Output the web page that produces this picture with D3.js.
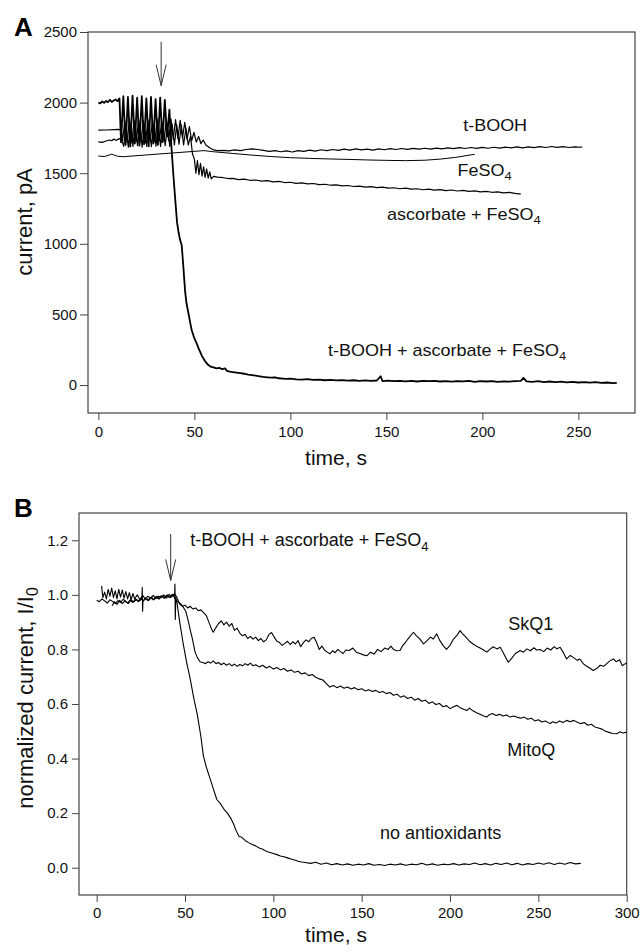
<!DOCTYPE html>
<html><head><meta charset="utf-8">
<script src="https://cdn.jsdelivr.net/npm/d3@7"></script>
<style>
html,body{margin:0;padding:0;background:#fff;}
svg{display:block;font-family:"Liberation Sans",Arial,sans-serif;}
</style></head>
<body>
<svg id="chart" width="640" height="952"></svg>
<script>
// ---------------- DATA: panel A (time s, current pA) ----------------
const aTicksX = [0, 50, 100, 150, 200, 250];
const aTicksY = [0, 500, 1000, 1500, 2000, 2500];
const aDomainX = [-5.4, 279.5];
const aDomainY = [-198, 2500];

const aAll = [[0,2000],[1,1995],[2,2008],[3,1998],[4,2012],[5,2003],[6,2020],[7,2005],[8,2015],[9,2022],[10,2010],[11,2030],
[11.8,1720],[13,2045],[14.2,1700],[15.4,2040],[16.6,1690],[17.8,2050],[19,1710],[20.2,2035],[21.4,1695],[22.6,2045],[23.8,1705],[25,2030],[26.2,1690],[27.4,2040],[28.6,1710],[29.8,2025],[31,1700],[32.2,2035],[33.4,1720],[34.6,2020],[35.8,1760],[37,1950],
[38,1700],[39,1500],[40,1320],[41,1150],[41.8,1080],[42.5,1030],[43.4,990],[44.2,850],[45.2,660],[46,570],[46.9,510],[48,430],[48.6,390],[50,330],[51.2,295],[52.5,250],[54,205],[55.5,170],[57,145],[58.5,130],[60,125],[61.5,118],[63,122],[64.5,112],[66,118],[67,100],[68.5,95],[70,92],[72,88],[74,84],[76,80],[78,74],[80,70],[82,66],[84,62],[86,58],[88,55],[90,52],[92,54],[94,48],[96,46],[98,43],[100,45],[103,40],[106,38],[109,42],[112,36],[115,38],[118,34],[121,37],[124,33],[127,35],[130,31],[133,34],[136,30],[139,33],[142,29],[145,32],[147,62],[148,28],[151,31],[154,27],[157,30],[160,26],[163,29],[166,25],[169,30],[172,27],[175,29],[178,25],[181,28],[184,24],[187,27],[190,26],[193,29],[196,23],[199,27],[202,25],[205,28],[208,22],[211,26],[214,24],[217,28],[220,30],[221.4,50],[223,26],[226,23],[229,27],[232,21],[235,25],[238,20],[241,24],[244,19],[247,22],[250,18],[253,21],[256,17],[259,20],[262,15],[265,18],[268,14],[270,16]];

const aTBOOH = [[0,1805],[4,1806],[8,1808],[11,1810],[12,1800],
[12.6,1730],[13.8,1870],[15,1720],[16.2,1880],[17.4,1715],[18.6,1875],[19.8,1725],[21,1885],[22.2,1720],[23.4,1870],[24.6,1715],[25.8,1880],[27,1725],[28.2,1875],[29.4,1720],[30.6,1885],[31.8,1730],[33,1870],[34.2,1725],[35.4,1880],[36.6,1730],[37.8,1885],[39,1740],[40.2,1880],[41.4,1745],[42.6,1875],[43.8,1750],[45,1860],[46.2,1740],[47.4,1830],[48.6,1730],[49.8,1790],[51,1720],[52.2,1760],[53.4,1710],[54.6,1735],
[56,1700],[58,1680],[60,1665],[62,1660],[65,1662],[68,1658],[71,1665],[74,1660],[77,1668],[80,1672],[83,1668],[86,1662],[89,1655],[92,1660],[95,1652],[98,1658],[101,1650],[104,1660],[107,1655],[110,1663],[113,1657],[116,1666],[119,1660],[122,1668],[125,1662],[128,1670],[131,1664],[134,1672],[137,1665],[140,1670],[143,1664],[146,1672],[149,1666],[152,1674],[155,1668],[158,1675],[161,1669],[164,1676],[167,1670],[170,1677],[173,1671],[176,1678],[179,1672],[182,1680],[185,1674],[188,1681],[191,1675],[194,1682],[197,1676],[200,1683],[203,1677],[206,1684],[209,1678],[212,1685],[215,1679],[218,1686],[221,1680],[224,1687],[227,1681],[230,1688],[233,1682],[236,1689],[239,1683],[242,1688],[245,1682],[248,1687],[251,1684],[252,1686]];

const aFeSO4 = [[0,1622],[3,1618],[5,1626],[7,1635],[8,1630],[10,1620],[13,1617],[55,1660],[60,1652],[70,1640],[80,1628],[90,1618],[100,1610],[110,1605],[120,1601],[130,1598],[140,1594],[150,1591],[160,1589],[170,1592],[178,1600],[186,1612],[196,1634]];

const aAscFe = [[0,1722],[2,1718],[4,1728],[6,1735],[7,1730],[8,1742],[9,1733],[10,1738],[11,1745],[12,1740],
[13.2,1690],[14.4,1840],[15.6,1685],[16.8,1850],[18,1690],[19.2,1845],[20.4,1695],[21.6,1850],[22.8,1685],[24,1840],[25.2,1690],[26.4,1848],[27.6,1688],[28.8,1842],[30,1692],[31.2,1850],[32.4,1690],[33.6,1845],[34.8,1695],[36,1840],[37.2,1690],[38.4,1850],[39.6,1700],[40.8,1845],[42,1705],[43.2,1840],[44.4,1700],[45.6,1820],[46.8,1700],[48,1760],
[49,1640],[50,1600],[50.8,1500],[51.6,1590],[52.4,1490],[53.2,1570],[54,1480],[54.8,1545],[55.6,1470],[56.4,1530],[57.2,1465],[58,1510],[58.8,1460],[60,1478],[62,1472],[64,1470],[66,1466],[68,1462],[70,1464],[73,1455],[76,1458],[79,1450],[82,1452],[85,1444],[88,1447],[91,1439],[94,1442],[97,1434],[100,1436],[103,1428],[106,1431],[109,1424],[112,1427],[115,1419],[118,1422],[121,1415],[124,1418],[127,1410],[130,1413],[133,1406],[136,1409],[139,1402],[142,1405],[145,1398],[148,1401],[151,1394],[154,1397],[157,1390],[160,1394],[163,1387],[166,1390],[169,1383],[172,1387],[175,1380],[178,1384],[181,1377],[184,1381],[187,1374],[190,1378],[193,1371],[196,1375],[199,1368],[202,1372],[205,1365],[208,1368],[211,1361],[214,1364],[217,1357],[220,1352]];

// ---------------- DATA: panel B (time s, normalized current) ----------------
const bTicksX = [0, 50, 100, 150, 200, 250, 300];
const bTicksY = [0, 0.2, 0.4, 0.6, 0.8, 1.0, 1.2];
const bDomainX = [-10, 300];
const bDomainY = [-0.1, 1.3];

const bNone = [[0,0.980],[1.5,0.975],[3,0.985],[4.5,0.978],[6,0.970],[7.5,0.982],[9,0.976],[10.5,0.968],[12,0.979],[13.5,0.972],[15,0.984],[16.5,0.975],[18,0.969],[19.5,0.981],[21,0.974],[22.5,0.983],[24,0.977],[25.6,0.985],[25.8,1.027],[26.0,0.940],[26.2,0.978],[27.5,0.986],[29,0.979],[30.5,0.990],[32,0.982],[33.5,0.993],[35,0.985],[36.5,0.996],[38,0.988],[39.5,0.998],[41,0.991],[42.5,1.000],[44.1,0.995],[44.3,1.040],[44.5,0.910],[44.8,0.990],[45.5,0.970],[47,0.900],[49,0.820],[51,0.750],[53,0.690],[55,0.620],[57,0.560],[59,0.480],[60.4,0.410],[62,0.370],[64,0.330],[66,0.290],[68,0.250],[70,0.235],[72,0.215],[74,0.200],[76,0.180],[77.5,0.160],[79,0.135],[80.5,0.115],[82,0.112],[84,0.100],[86,0.092],[88,0.085],[90,0.080],[92,0.072],[94,0.068],[96,0.060],[98,0.056],[100,0.052],[102,0.048],[104,0.043],[106,0.040],[108,0.036],[110,0.032],[112,0.028],[114,0.024],[116,0.021],[118,0.019],
[121,0.016],[124,0.020],[127,0.013],[130,0.017],[133,0.011],[136,0.015],[139,0.010],[142,0.014],[145,0.009],[148,0.013],[151,0.010],[154,0.015],[157,0.009],[160,0.012],[163,0.008],[166,0.013],[169,0.010],[172,0.014],[175,0.009],[178,0.013],[181,0.011],[184,0.016],[187,0.010],[190,0.014],[193,0.009],[196,0.013],[199,0.011],[202,0.015],[205,0.010],[208,0.014],[211,0.012],[214,0.017],[217,0.011],[220,0.015],[223,0.010],[226,0.016],[229,0.012],[232,0.017],[235,0.011],[238,0.016],[241,0.010],[244,0.015],[247,0.012],[250,0.017],[253,0.013],[256,0.018],[259,0.012],[262,0.017],[265,0.013],[268,0.019],[271,0.014],[274,0.016]];

const bSkQ1 = [[2.8,1.033],[3.5,0.990],[4.5,1.010],[5.5,0.985],[6.5,1.020],[7.5,0.995],[8.5,1.025],[9.5,0.990],[10.5,1.015],[11.5,0.985],[12.5,1.020],[13.5,0.992],[14.5,1.018],[15.5,0.988],[16.5,1.012],[17.5,0.985],[18.5,1.008],[19.5,0.982],[20.5,1.005],[21.5,0.985],[23,1.000],[24.5,0.982],[26,0.998],[27.5,0.985],[29,0.995],[30.5,0.988],[32,0.998],[33.5,0.986],[35,0.995],[36.5,0.990],[38,1.000],[39.5,0.988],[41,1.002],[42.5,0.992],[44,1.005],[45.5,0.990],[47,0.965],[48.5,0.958],[50,0.962],[51.5,0.952],[53,0.958],[54.5,0.948],[56,0.952],[57.5,0.942],[59,0.945],[60.5,0.935],[62,0.925],[63.5,0.900],[65,0.875],[66,0.863],[67.5,0.880],[69,0.895],[70.5,0.905],[72,0.890],[73.5,0.900],[75,0.885],[76.5,0.895],[78,0.870],[79.5,0.878],[81,0.860],[82.5,0.850],[84,0.855],[85.5,0.840],[87,0.848],[88.5,0.838],[90,0.845],[91.5,0.832],[93,0.840],[94.5,0.828],[96,0.835],[97.5,0.855],[99,0.862],[100.5,0.845],[102,0.830],[103.5,0.825],[105,0.815],[106.5,0.822],[108,0.830],[109.5,0.818],[111,0.828],[112.5,0.820],[114,0.832],[115.5,0.810],[117,0.825],[118.5,0.835],[120,0.828],[121.5,0.840],[123,0.845],[124.5,0.825],[126,0.800],[127.5,0.812],[129,0.798],[130.5,0.790],[132,0.784],[133.5,0.795],[135,0.788],[136.5,0.800],[138,0.792],[139.5,0.785],[141,0.798],[143,0.796],[145,0.805],[147,0.790],[149,0.785],[151,0.780],[153,0.777],[155,0.790],[157,0.783],[159,0.800],[161,0.792],[163,0.805],[165,0.800],[166.5,0.812],[168,0.800],[170,0.795],[171.7,0.796],[173,0.812],[175,0.828],[177,0.845],[179.3,0.863],[181,0.850],[183,0.838],[185,0.820],[187,0.832],[189,0.845],[190.5,0.838],[192.5,0.857],[194,0.835],[196,0.815],[198,0.800],[200,0.815],[202,0.838],[204,0.852],[205.7,0.869],[207,0.858],[209,0.845],[211,0.830],[213,0.820],[215,0.812],[217,0.805],[219,0.798],[220.8,0.790],[222.5,0.800],[224.5,0.810],[226.5,0.802],[228.4,0.808],[230,0.790],[231.5,0.770],[233,0.753],[235,0.768],[237,0.785],[239.7,0.796],[241.5,0.790],[243.5,0.802],[245.5,0.795],[247.5,0.806],[249,0.798],[251,0.800],[253,0.792],[255,0.805],[257,0.798],[259,0.810],[260.5,0.802],[262.3,0.808],[264,0.790],[266,0.765],[268,0.778],[270,0.770],[272,0.760],[273.5,0.765],[275.5,0.747],[277,0.740],[279,0.732],[281,0.723],[283,0.730],[285,0.742],[287,0.738],[289,0.750],[290.5,0.758],[292.5,0.765],[294,0.755],[296,0.762],[297.5,0.740],[299,0.747],[300,0.750]];

const bMitoQ = [[8.8,0.960],[10,0.975],[11.5,0.965],[13,0.980],[14.5,0.968],[16,0.978],[17.5,0.970],[19,0.982],[20.5,0.972],[22,0.985],[23.5,0.975],[25,0.988],[26.5,0.978],[28,0.990],[29.5,0.980],[31,0.992],[32.5,0.982],[34,0.995],[35.5,0.985],[37,0.997],[38.5,0.988],[40,1.000],[41.5,0.990],[43,1.002],[44.5,0.985],[46,0.975],[47.5,0.968],[49,0.955],[50.4,0.940],[52,0.900],[53,0.870],[54,0.844],[55.7,0.790],[57,0.770],[58.5,0.755],[60,0.752],[61.7,0.748],[63,0.755],[64.5,0.750],[66,0.758],[67.5,0.748],[69,0.752],[70.5,0.744],[72,0.750],[73.5,0.742],[75,0.748],[76.5,0.740],[78,0.746],[79.5,0.738],[81,0.745],[82.5,0.740],[84,0.748],[85.5,0.742],[87,0.750],[88.5,0.740],[90,0.744],[92,0.736],[94,0.742],[96,0.732],[98,0.738],[100,0.728],[102,0.734],[104,0.725],[106,0.730],[108,0.720],[110,0.725],[112,0.716],[114,0.720],[116,0.710],[118,0.714],[120,0.704],[122,0.708],[124,0.698],[126,0.692],[128,0.688],[130,0.675],[132,0.662],[134,0.668],[136,0.660],[138,0.666],[140,0.658],[142,0.662],[144,0.655],[146,0.660],[148,0.652],[150,0.656],[152,0.648],[154,0.652],[156,0.646],[158,0.650],[160,0.642],[162,0.646],[164,0.638],[166,0.642],[168,0.632],[170,0.636],[172,0.625],[174,0.630],[176,0.620],[178,0.625],[180,0.614],[182,0.620],[184,0.610],[186,0.614],[188,0.602],[190,0.608],[192,0.598],[194,0.602],[196,0.590],[198,0.594],[200,0.583],[202,0.590],[204,0.595],[206,0.585],[208,0.580],[209.6,0.576],[211,0.585],[213,0.575],[215,0.568],[217,0.562],[219,0.556],[220.8,0.552],[222,0.560],[224,0.565],[226,0.558],[228,0.562],[230,0.556],[232,0.560],[234,0.552],[236,0.556],[237.8,0.552],[240,0.548],[242,0.552],[244,0.544],[246,0.548],[248,0.538],[250,0.542],[252,0.534],[254,0.538],[256.7,0.528],[258,0.535],[260,0.530],[262,0.538],[264,0.532],[266,0.540],[268,0.535],[270,0.540],[271.8,0.534],[274,0.528],[276,0.532],[278,0.522],[280,0.526],[282,0.516],[284,0.512],[286,0.508],[288,0.500],[290,0.496],[292,0.492],[294.4,0.491],[296,0.498],[298,0.494],[300,0.497]];

// annotation texts (data coordinates of label anchor)
const aLabels = [
  {parts:[["t-BOOH"]], t:190, v:1800},
  {parts:[["FeSO"],["4","sub"]], t:187, v:1482},
  {parts:[["ascorbate + FeSO"],["4","sub"]], t:150.3, v:1170},
  {parts:[["t-BOOH + ascorbate + FeSO"],["4","sub"]], t:119.6, v:208}
];
const bLabels = [
  {parts:[["t-BOOH + ascorbate + FeSO"],["4","sub"]], t:52.9, v:1.18},
  {parts:[["SkQ1"]], t:232.9, v:0.872},
  {parts:[["MitoQ"]], t:232.4, v:0.408},
  {parts:[["no antioxidants"]], t:160.4, v:0.105}
];
const aArrow = {t:32.7, from:2431, to:2120};
const bArrow = {t:41.9, from:1.223, to:1.053};

// ---------------- DRAWING ----------------
const svg = d3.select("#chart");
const frameColor = "#444";
const textColor = "#111";

function panel(cfg) {
  const x = d3.scaleLinear().domain(cfg.domX).range([cfg.left, cfg.right]);
  const y = d3.scaleLinear().domain(cfg.domY).range([cfg.bottom, cfg.top]);
  const g = svg.append("g");

  const ax = g.append("g").attr("transform", `translate(0,${cfg.bottom})`)
    .call(d3.axisBottom(x).tickValues(cfg.ticksX).tickSize(cfg.tickLenX).tickSizeOuter(0).tickPadding(cfg.padX).tickFormat(d3.format("d")));
  const ay = g.append("g").attr("transform", `translate(${cfg.left},0)`)
    .call(d3.axisLeft(y).tickValues(cfg.ticksY).tickSize(cfg.tickLenY).tickSizeOuter(0).tickPadding(cfg.padY).tickFormat(cfg.fmtY));
  [ax, ay].forEach(a => {
    a.select(".domain").remove();
    a.selectAll("line").attr("stroke", frameColor).attr("stroke-width", 1);
    a.selectAll("text").attr("fill", textColor).style("font-size", "15px")
      .style("font-family", "'Liberation Sans', Arial, sans-serif");
  });

  g.append("rect").attr("x", cfg.left).attr("y", cfg.top)
    .attr("width", cfg.right - cfg.left).attr("height", cfg.bottom - cfg.top)
    .attr("fill", "none").attr("stroke", frameColor).attr("stroke-width", 1.2);

  const line = d3.line().x(d => x(d[0])).y(d => y(d[1]));
  cfg.series.forEach(s => {
    g.append("path").datum(s.data).attr("d", line)
      .attr("fill", "none").attr("stroke", "#000")
      .attr("stroke-width", s.w).attr("stroke-linejoin", "round");
  });

  const axp = x(cfg.arrow.t), y1 = y(cfg.arrow.from), y2 = y(cfg.arrow.to);
  g.append("line").attr("x1", axp).attr("x2", axp).attr("y1", y1).attr("y2", y2)
    .attr("stroke", "#333").attr("stroke-width", 1);
  g.append("path").attr("d", `M${axp - 5},${y2 - 21}L${axp},${y2}L${axp + 5},${y2 - 21}`)
    .attr("fill", "none").attr("stroke", "#333").attr("stroke-width", 1);

  cfg.labels.forEach(l => {
    const tx = g.append("text")
      .attr("transform", `translate(${x(l.t)},${y(l.v)}) scale(1,${cfg.squash})`)
      .attr("fill", textColor).style("font-size", "18px");
    l.parts.forEach(p => {
      if (p[1] === "sub") tx.append("tspan").attr("dy", 5).style("font-size", "13px").text(p[0]);
      else tx.append("tspan").text(p[0]);
    });
  });

  g.append("text").attr("x", cfg.xTitleX).attr("y", cfg.xTitleY).attr("text-anchor", "middle")
    .attr("fill", textColor).style("font-size", "21px").text("time, s");
  const yt = g.append("text").attr("transform", `translate(${cfg.yTitleX},${cfg.yTitleY}) rotate(-90)`)
    .attr("text-anchor", "middle").attr("fill", textColor).style("font-size", "22px");
  cfg.yTitle.forEach(p => {
    if (p[1] === "sub") yt.append("tspan").attr("dy", 5).style("font-size", "16px").text(p[0]);
    else yt.append("tspan").text(p[0]);
  });

  g.append("text").attr("x", 14).attr("y", cfg.letterY).attr("fill", "#000")
    .style("font-size", "26px").style("font-weight", "bold").text(cfg.letter);
}

panel({
  domX: aDomainX, domY: aDomainY, left: 88, right: 635, top: 32, bottom: 413,
  ticksX: aTicksX, ticksY: aTicksY, tickLenX: 7, tickLenY: 8, padX: 6, padY: 3,
  fmtY: d3.format("d"),
  series: [{data: aFeSO4, w: 1}, {data: aAscFe, w: 1.2}, {data: aTBOOH, w: 1.2}, {data: aAll, w: 1.8}],
  arrow: aArrow, labels: aLabels, squash: 0.9,
  xTitleX: 336, xTitleY: 465, yTitleX: 32, yTitleY: 222,
  yTitle: [["current, pA"]], letter: "A", letterY: 36
});

panel({
  domX: bDomainX, domY: bDomainY, left: 79, right: 626.7, top: 513, bottom: 895,
  ticksX: bTicksX, ticksY: bTicksY, tickLenX: 7, tickLenY: 7, padX: 5, padY: 4,
  fmtY: d3.format(".1f"),
  series: [{data: bNone, w: 1.1}, {data: bMitoQ, w: 1.1}, {data: bSkQ1, w: 1.1}],
  arrow: bArrow, labels: bLabels, squash: 1,
  xTitleX: 336, xTitleY: 942, yTitleX: 33, yTitleY: 698,
  yTitle: [["normalized current, I/I"], ["0", "sub"]], letter: "B", letterY: 517
});
</script>
</body></html>
